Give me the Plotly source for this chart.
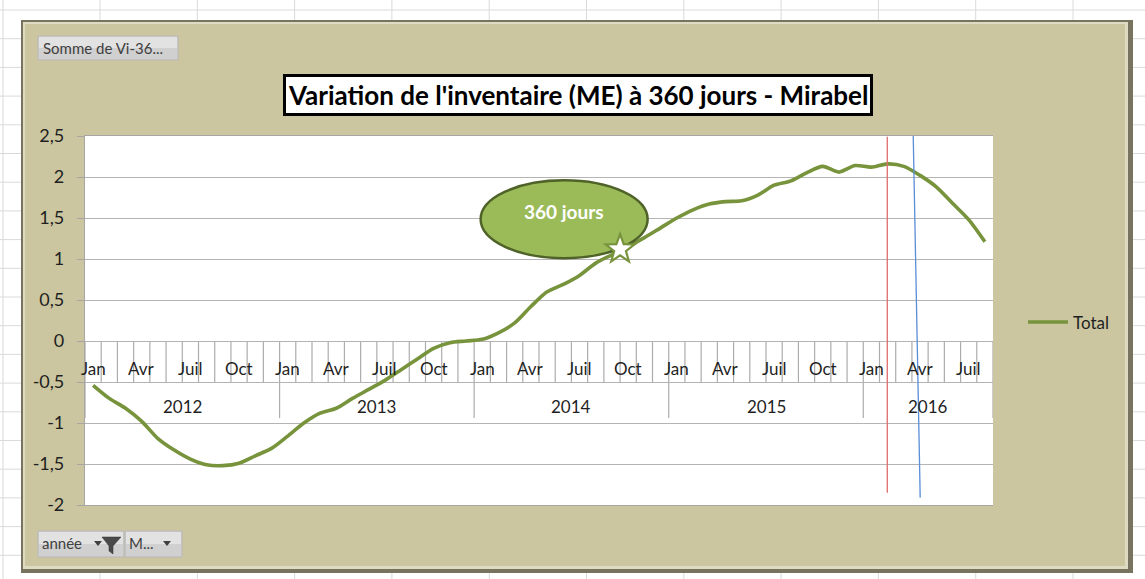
import math
import plotly.graph_objects as go

# ---------------- data ----------------
years = ["2012", "2013", "2014", "2015", "2016"]
months = ["Jan", "Fév", "Mar", "Avr", "Mai", "Juin", "Juil", "Août", "Sep", "Oct", "Nov", "Déc"]
months_per_year = [12, 12, 12, 12, 8]
shown_months = ["Jan", "Avr", "Juil", "Oct"]
total = [
    -0.54, -0.70, -0.82, -0.98, -1.19, -1.33, -1.44, -1.51, -1.52, -1.49, -1.40, -1.31,   # 2012
    -1.16, -1.00, -0.88, -0.82, -0.70, -0.59, -0.48, -0.35, -0.22, -0.09, -0.02, 0.00,    # 2013
    0.02, 0.10, 0.22, 0.42, 0.60, 0.69, 0.80, 0.95, 1.05, 1.15, 1.26, 1.38,               # 2014
    1.50, 1.60, 1.67, 1.70, 1.71, 1.78, 1.90, 1.95, 2.05, 2.13, 2.06, 2.14,               # 2015
    2.12, 2.16, 2.13, 2.02, 1.88, 1.68, 1.48, 1.21,                                       # 2016
]
y_ticks = [2.5, 2, 1.5, 1, 0.5, 0, -0.5, -1, -1.5, -2]
y_ticktext = ["2,5", "2", "1,5", "1", "0,5", "0", "-0,5", "-1", "-1,5", "-2"]
title_text = "Variation de l'inventaire (ME) à 360 jours - Mirabel"
series_name = "Total"
bubble_text = "360 jours"

# annotation decorations (in data units)
star_pos = (32.5, 1.12)
red_line = ((48.98, 2.49), (48.98, -1.85))
blue_line = ((50.58, 2.5), (51.01, -1.91))
bubble = dict(x0=23.9, x1=34.2, y0=1.01, y1=1.96)

# ---------------- build ----------------
cat_labels = []
for yr, n in zip(years, months_per_year):
    for m in months[:n]:
        cat_labels.append((yr, m))
n_cat = len(cat_labels)
xs = list(range(n_cat))

W, H = 1145, 579
L, R, T, B = 85, 993, 136, 505
X0, X1 = -0.5, n_cat - 0.5
Y0, Y1 = -2.0, 2.5
def px(x):
    return (x - L) / (R - L)
def py(y):
    return (B - y) / (B - T)
def dx2px(v):
    return L + (v - X0) / (X1 - X0) * (R - L)
def dy2px(v):
    return B - (v - Y0) / (Y1 - Y0) * (B - T)

FONT = "Lato"
GREEN = "#77933C"
TXT = "#1F1F1F"
LINE_W = 3.6

fig = go.Figure()
fig.add_trace(go.Scatter(
    x=xs, y=total, mode="lines", name=series_name, showlegend=False,
    line=dict(color=GREEN, width=LINE_W, shape="spline", smoothing=0.8),
    hoverinfo="skip",
))

shapes = []
# spreadsheet grid behind the chart
for k in range(12):
    xx = 3 if k == 0 else 100 + 97.3 * (k - 1)
    shapes.append(dict(type="line", xref="paper", yref="paper", x0=px(xx), x1=px(xx),
                       y0=py(0), y1=py(H), line=dict(color="#DADADA", width=1), layer="below"))
for k in range(21):
    yy = 10 + 28.7 * k
    shapes.append(dict(type="line", xref="paper", yref="paper", x0=px(0), x1=px(W),
                       y0=py(yy), y1=py(yy), line=dict(color="#DADADA", width=1), layer="below"))
# chart area with bevel
shapes.append(dict(type="rect", xref="paper", yref="paper", x0=px(21), x1=px(1133), y0=py(20), y1=py(573),
                   fillcolor="#77735F", line=dict(width=0), layer="below"))
shapes.append(dict(type="rect", xref="paper", yref="paper", x0=px(23), x1=px(1128), y0=py(22), y1=py(569),
                   fillcolor="#DEDBC3", line=dict(width=0), layer="below"))
shapes.append(dict(type="rect", xref="paper", yref="paper", x0=px(25), x1=px(1125), y0=py(24), y1=py(566),
                   fillcolor="#CBC6A0", line=dict(width=0), layer="below"))
# plot area
shapes.append(dict(type="rect", xref="paper", yref="paper", x0=0, x1=1, y0=0, y1=1,
                   fillcolor="white", line=dict(width=0), layer="below"))

# category table lines under zero
tbl_month_bottom = -0.5
tbl_year_bottom = -0.94
for k in range(n_cat + 1):
    xb = k - 0.5
    is_year = (k == 0) or (k == n_cat) or (k < n_cat and cat_labels[k][1] == months[0])
    shapes.append(dict(type="line", xref="x", yref="y", x0=xb, x1=xb, y0=0,
                       y1=tbl_year_bottom if is_year else tbl_month_bottom,
                       line=dict(color="#ACACAC", width=1.2), layer="below"))

# ellipse bubble
shapes.append(dict(type="circle", xref="x", yref="y", **bubble,
                   fillcolor="#9BBB59", line=dict(color="#4F6228", width=2.5), layer="above"))
# star (drawn above the bubble)
scx, scy = dx2px(star_pos[0]), dy2px(star_pos[1])
pts = []
for j in range(10):
    ang = -math.pi / 2 + j * math.pi / 5
    rad = 15 if j % 2 == 0 else 6.2
    pts.append((scx + rad * math.cos(ang), scy + rad * math.sin(ang)))
star_path = "M " + " L ".join(f"{px(a)} {py(b)}" for a, b in pts) + " Z"
shapes.append(dict(type="path", xref="paper", yref="paper", path=star_path,
                   fillcolor="white", line=dict(color=GREEN, width=2.2), layer="above"))
# red and blue markers
shapes.append(dict(type="line", xref="x", yref="y", x0=red_line[0][0], y0=red_line[0][1],
                   x1=red_line[1][0], y1=red_line[1][1], line=dict(color="#E06C6C", width=1.3)))
shapes.append(dict(type="line", xref="x", yref="y", x0=blue_line[0][0], y0=blue_line[0][1],
                   x1=blue_line[1][0], y1=blue_line[1][1], line=dict(color="#5B8ED6", width=1.3)))

# legend sample
shapes.append(dict(type="line", xref="paper", yref="paper", x0=px(1028), x1=px(1068), y0=py(322), y1=py(322),
                   line=dict(color=GREEN, width=LINE_W)))

# buttons
def button(x0, x1, y0, y1):
    shapes.append(dict(type="rect", xref="paper", yref="paper", x0=px(x0), x1=px(x1), y0=py(y0), y1=py(y1),
                       fillcolor="#D0D0D0", line=dict(color="#B8B8B8", width=1), layer="below"))
    shapes.append(dict(type="rect", xref="paper", yref="paper", x0=px(x0 + 1), x1=px(x1 - 1),
                       y0=py(y0 + 1), y1=py((y0 + y1) / 2),
                       fillcolor="#E2E2E2", line=dict(width=0), layer="below"))
button(38, 178, 36, 60)
button(38, 124, 531, 557)
button(125, 182, 531, 557)

def tri(cx, cy, s=4):
    return (f"M {px(cx - s)} {py(cy - s / 2)} L {px(cx + s)} {py(cy - s / 2)} "
            f"L {px(cx)} {py(cy + s / 2 + 1)} Z")
shapes.append(dict(type="path", xref="paper", yref="paper", path=tri(98, 543),
                   fillcolor="#404040", line=dict(width=0)))
shapes.append(dict(type="path", xref="paper", yref="paper", path=tri(167, 543),
                   fillcolor="#404040", line=dict(width=0)))
funnel = (f"M {px(102)} {py(537)} L {px(121)} {py(537)} L {px(113)} {py(546)} L {px(113)} {py(554)} "
          f"L {px(109)} {py(551)} L {px(109)} {py(546)} Z")
shapes.append(dict(type="path", xref="paper", yref="paper", path=funnel,
                   fillcolor="#4A4A4A", line=dict(color="#303030", width=0.5)))

annotations = []
# title
annotations.append(dict(xref="paper", yref="paper", x=px(577.5), y=py(95), text=f"<b>{title_text}</b>",
                        showarrow=False, font=dict(family=FONT, size=26, color="black"),
                        bgcolor="white", bordercolor="black", borderwidth=3, borderpad=2,
                        xanchor="center", yanchor="middle"))
# month & year labels
for i, (yr, m) in enumerate(cat_labels):
    if m in shown_months:
        annotations.append(dict(xref="x", yref="y", x=i, y=-0.33, text=m, showarrow=False,
                                font=dict(family=FONT, size=17, color=TXT),
                                xanchor="center", yanchor="middle"))
start = 0
for yr, n in zip(years, months_per_year):
    annotations.append(dict(xref="x", yref="y", x=start + (n - 1) / 2, y=-0.80, text=yr, showarrow=False,
                            font=dict(family=FONT, size=17, color=TXT),
                            xanchor="center", yanchor="middle"))
    start += n
# bubble text
annotations.append(dict(xref="x", yref="y", x=(bubble["x0"] + bubble["x1"]) / 2, y=1.585,
                        text=f"<b>{bubble_text}</b>", showarrow=False,
                        font=dict(family=FONT, size=19, color="white"), xanchor="center", yanchor="middle"))
# legend text
annotations.append(dict(xref="paper", yref="paper", x=px(1071), y=py(322), text=series_name,
                        showarrow=False, font=dict(family=FONT, size=17, color=TXT),
                        xanchor="left", yanchor="middle"))
# button texts
annotations.append(dict(xref="paper", yref="paper", x=px(41), y=py(48), text="Somme de Vi-36...",
                        showarrow=False, font=dict(family=FONT, size=15, color="#404040"),
                        xanchor="left", yanchor="middle"))
annotations.append(dict(xref="paper", yref="paper", x=px(40), y=py(543), text="année",
                        showarrow=False, font=dict(family=FONT, size=15, color="#404040"),
                        xanchor="left", yanchor="middle"))
annotations.append(dict(xref="paper", yref="paper", x=px(127), y=py(543), text="M...",
                        showarrow=False, font=dict(family=FONT, size=15, color="#404040"),
                        xanchor="left", yanchor="middle"))

fig.update_layout(
    width=W, height=H,
    margin=dict(l=L, r=W - R, t=T, b=H - B, pad=0),
    paper_bgcolor="white", plot_bgcolor="rgba(0,0,0,0)",
    shapes=shapes, annotations=annotations,
    showlegend=False,
    font=dict(family=FONT),
)
fig.update_xaxes(range=[X0, X1], showgrid=False, zeroline=False, showticklabels=False,
                 ticks="", showline=True, mirror=True, linecolor="#A6A6A6", linewidth=1.2, fixedrange=True)
fig.update_yaxes(range=[Y0, Y1], tickvals=y_ticks, ticktext=y_ticktext, showgrid=True,
                 gridcolor="#B4B4B4", gridwidth=1.4, zeroline=False,
                 ticks="outside", ticklen=7, tickcolor="#A6A6A6", showline=True, linecolor="#A6A6A6",
                 linewidth=1.2, tickfont=dict(family=FONT, size=18, color=TXT),
                 ticklabelstandoff=9, fixedrange=True)

fig.write_html("out.html", config={"displayModeBar": False},
               post_script="document.body.style.margin='0';document.body.style.overflow='hidden';")
